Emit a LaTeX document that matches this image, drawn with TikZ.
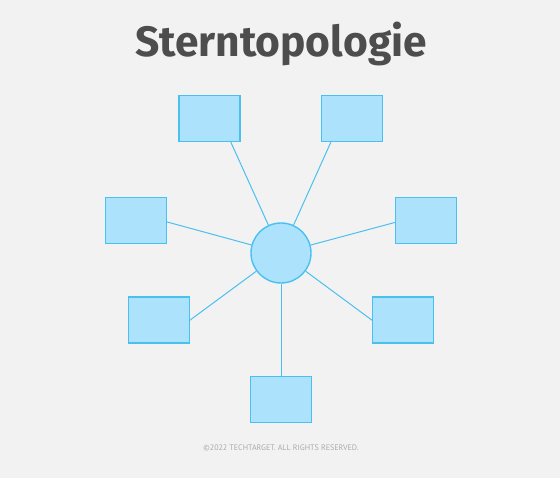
\documentclass[tikz,border=0pt]{standalone}
\usepackage{fontspec}
\setmainfont{PT Sans}
\newfontfamily\headfont{Fira Sans}
\definecolor{bg}{RGB}{242,242,242}
\definecolor{titlegray}{RGB}{77,77,77}
\definecolor{notegray}{RGB}{170,170,170}
\definecolor{nodefill}{RGB}{173,226,252}
\definecolor{nodeline}{RGB}{74,192,240}
\tikzset{
  station/.style={draw=nodeline, fill=nodefill, line width=1.4pt, minimum width=61pt, minimum height=46pt, inner sep=0pt},
  hub/.style={circle, draw=nodeline, fill=nodefill, line width=1.4pt, minimum size=60pt, inner sep=0pt},
  link/.style={draw=nodeline, line width=1pt}
}
\begin{document}
\begin{tikzpicture}[x=1pt, y=-1pt, every node/.style={font=\small}]
\fill[bg] (0,0) rectangle (560,478);
\useasboundingbox (0,0) rectangle (560,478);

\node[anchor=base, text=titlegray, font=\headfont\fontsize{42.5}{44}\selectfont\bfseries] (title) at (281,57) {Sterntopologie};

\node[hub] (hub) at (281,253) {};

% stations round the hub
\foreach \name/\x/\y in {tl/209.5/118.5, tr/352.2/118.5, l/135.8/220.3, r/426/220.3, ll/158.7/320.2, lr/403.2/320.2, b/281/399.5} {
  \node[station] (\name) at (\x,\y) {};
}
\foreach \name/\a in {tl/-48, tr/-132, l/-3, r/184, ll/0, lr/180, b/90} {
  \draw[link] (hub) -- (\name.\a);
}

\node[text=notegray, font=\fontsize{8}{9}\selectfont] (note) at (281,448) {©2022 TECHTARGET. ALL RIGHTS RESERVED.};
\end{tikzpicture}
\end{document}
